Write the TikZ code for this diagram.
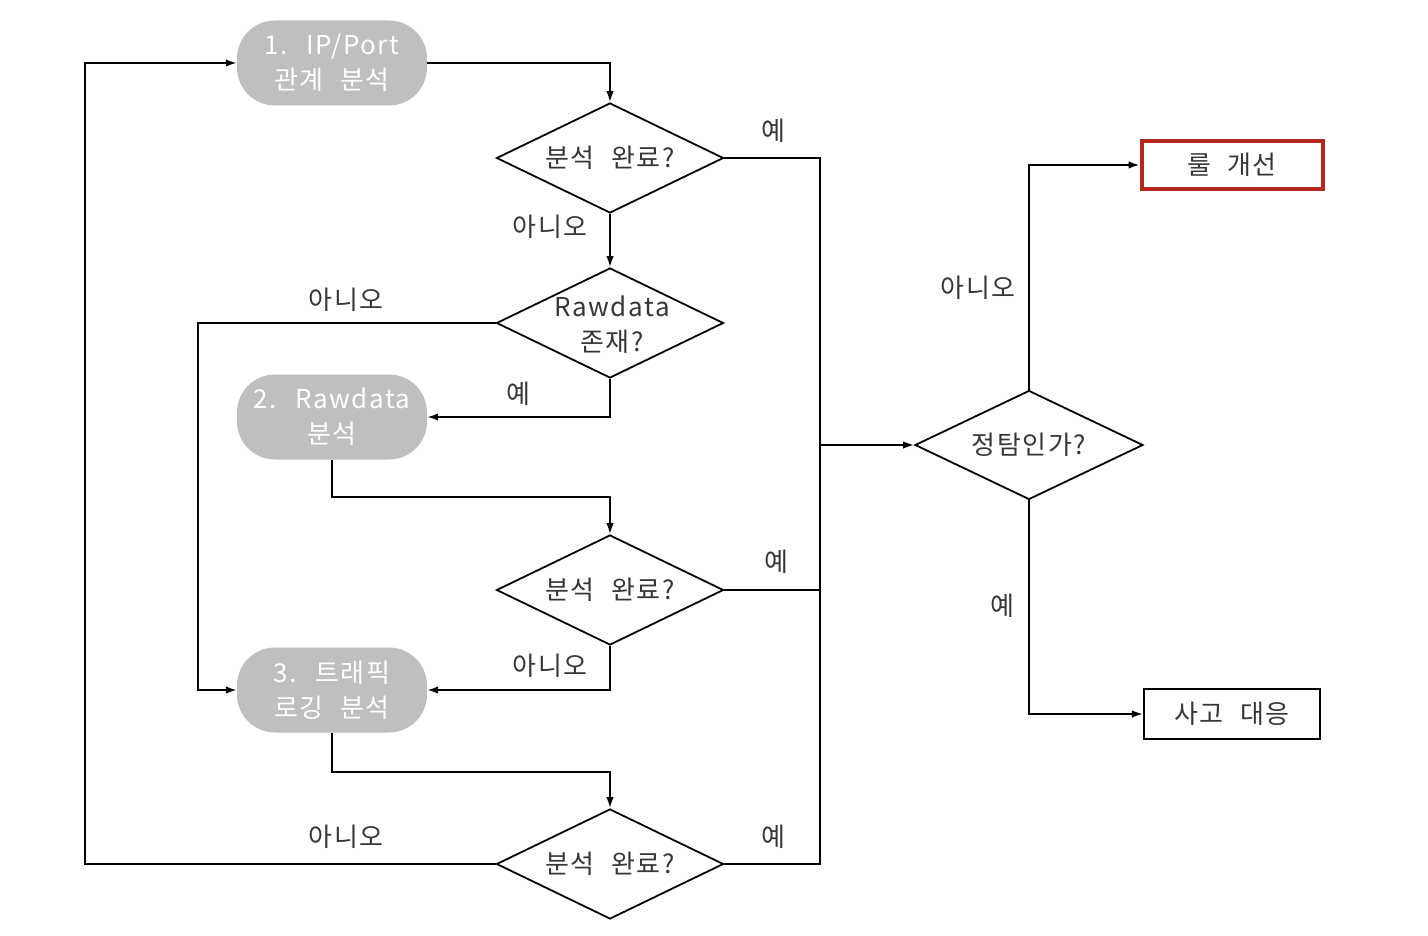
\documentclass[tikz,border=0pt]{standalone}
\usepackage{fontspec}
\setmainfont[LetterSpace=6,WordSpace=2.2]{Noto Sans CJK KR}
\usetikzlibrary{shapes.geometric,arrows.meta}
\definecolor{boxgray}{RGB}{191,191,191}
\definecolor{txtgray}{RGB}{55,55,55}
\definecolor{rulered}{RGB}{178,40,30}
\tikzset{
  proc/.style={fill=boxgray, rounded corners=38pt, minimum width=190pt, minimum height=85pt,
    text=white, align=center, font=\fontsize{26}{35}\selectfont, inner sep=0pt},
  dec/.style={diamond, draw, line width=1.8pt, aspect=2.06, minimum width=227pt,
    minimum height=110pt, inner sep=0pt, align=center, text=txtgray,
    font=\fontsize{26}{35}\selectfont},
  dtext/.style={align=center, text=txtgray, font=\fontsize{26}{35}\selectfont, inner sep=0pt},
  lbl/.style={text=txtgray, font=\fontsize{26}{30}\selectfont, inner sep=0pt},
  outbox/.style={draw, line width=2.2pt, minimum width=176pt, minimum height=50pt,
    text=txtgray, font=\fontsize{26}{30}\selectfont, inner sep=0pt},
  ln/.style={line width=1.8pt},
  arr/.style={line width=1.8pt, -{Latex[length=11pt,width=7.5pt]}}
}
\begin{document}
\begin{tikzpicture}[x=1pt,y=-1pt]
\useasboundingbox (0,0) rectangle (1428,936);
% process boxes
\node[proc] (b1) at (332,63) {1. IP/Port\\관계 분석};
\node[proc] (b2) at (332,417) {2. Rawdata\\분석};
\node[proc] (b3) at (332,690) {3. 트래픽\\로깅 분석};
% decisions
\node[dec] (d1) at (610,158) {분석 완료?};
\node[dec] (d2) at (610,323) {};
\node[dtext] (d2t) at (612,325) {Rawdata\\존재?};
\node[dec] (d3) at (610,590) {분석 완료?};
\node[dec] (d4) at (610,864) {분석 완료?};
\node[dec, minimum width=228pt, minimum height=109pt] (d5) at (1029,445) {정탐인가?};
% outcome boxes
\node[outbox, draw=rulered, line width=4pt, minimum width=181pt, minimum height=48pt] (r1) at (1232,165) {룰 개선};
\node[outbox] (r2) at (1232,714) {사고 대응};
% coordinates
\coordinate (j1) at (820,158);
\coordinate (j4) at (820,864);
\coordinate (j5) at (820,445);
\coordinate (l2) at (198,323);
\coordinate (l4) at (85,864);
\coordinate (m2) at (470,497);
\coordinate (m3) at (470,772);
% connectors
\draw[arr] (b1.east) -| (d1.north);
\draw[ln] (d1.east) -- (j1) -- (j4) -- (d4.east);
\draw[ln] (d3.east) -- (d3.east -| j1);
\draw[arr] (j5) -- (d5.west);
\draw[arr] (d1.south) -- (d2.north);
\draw[arr] (d2.west) -- (l2) |- (b3.west);
\draw[arr] (d2.south) |- (b2.east);
\draw[arr] (b2.south) |- (m2) -| (d3.north);
\draw[arr] (d3.south) |- (b3.east);
\draw[arr] (b3.south) |- (m3) -| (d4.north);
\draw[arr] (d4.west) -- (l4) |- (b1.west);
\draw[arr] (d5.north) |- (r1.west);
\draw[arr] (d5.south) |- (r2.west);
% labels
\node[lbl] (t1) at (773,131) {예};
\node[lbl] (t2) at (550,227) {아니오};
\node[lbl] (t3) at (346,300) {아니오};
\node[lbl] (t4) at (518,394) {예};
\node[lbl] (t5) at (776,562) {예};
\node[lbl] (t6) at (550,666) {아니오};
\node[lbl] (t7) at (346,837) {아니오};
\node[lbl] (t8) at (773,837) {예};
\node[lbl] (t9) at (978,288) {아니오};
\node[lbl] (t10) at (1002,606) {예};
\end{tikzpicture}
\end{document}
